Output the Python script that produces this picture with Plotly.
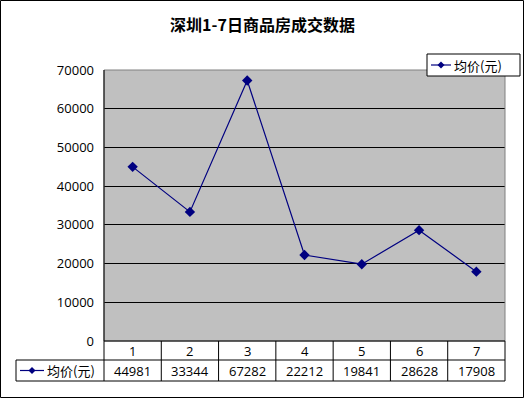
import plotly.graph_objects as go

# ---- data ----
days = [1, 2, 3, 4, 5, 6, 7]
avg_price = [44981, 33344, 67282, 22212, 19841, 28628, 17908]
series_name = "均价(元)"
title_text = "深圳1-7日商品房成交数据"
y_ticks = [0, 10000, 20000, 30000, 40000, 50000, 60000, 70000]

# ---- layout geometry (pixels) ----
W, H = 525, 398
L, R, T, B = 104, 505, 70, 341
pw, ph = R - L, B - T
NAVY = "#000080"
FONT = "Open Sans, Noto Sans CJK SC, sans-serif"
CJK = "Noto Sans CJK SC, sans-serif"


def px(x):
    return (x - L) / pw


def py(y):
    return (B - y) / ph


fig = go.Figure()
fig.add_trace(go.Scatter(
    x=days, y=avg_price, name=series_name, mode="lines+markers",
    line=dict(color=NAVY, width=1.2),
    marker=dict(symbol="diamond", size=8, color=NAVY),
    showlegend=False, cliponaxis=False,
))

shapes = []
ln = dict(color="black", width=1)
# outer frame
shapes.append(dict(type="rect", xref="paper", yref="paper",
                   x0=px(0.5), x1=px(523.5), y0=py(397.5), y1=py(0.5),
                   line=ln, layer="below"))
# plot area border
shapes.append(dict(type="rect", xref="paper", yref="paper",
                   x0=0, x1=1, y0=0, y1=1, line=dict(color="#808080", width=1)))
# left axis line
shapes.append(dict(type="line", xref="paper", yref="paper",
                   x0=0, x1=0, y0=0, y1=1, line=ln))
# table horizontal lines
shapes.append(dict(type="line", xref="paper", yref="paper",
                   x0=0, x1=1, y0=0, y1=0, line=ln))
for yy in (360, 381):
    shapes.append(dict(type="line", xref="paper", yref="paper",
                       x0=px(16), x1=1, y0=py(yy), y1=py(yy), line=ln))
shapes.append(dict(type="line", xref="paper", yref="paper",
                   x0=px(16), x1=px(16), y0=py(360), y1=py(381), line=ln))
n = len(days)
for k in range(n + 1):
    shapes.append(dict(type="line", xref="paper", yref="paper",
                       x0=k / n, x1=k / n, y0=py(341), y1=py(381), line=ln))


# legend key (line + diamond)
def key(x0, x1, yc):
    out = [dict(type="line", xref="paper", yref="paper",
                x0=px(x0), x1=px(x1), y0=py(yc), y1=py(yc),
                line=dict(color=NAVY, width=1.2))]
    cx = (x0 + x1) / 2
    d = 3.5
    path = (f"M {px(cx - d)} {py(yc)} L {px(cx)} {py(yc - d)} "
            f"L {px(cx + d)} {py(yc)} L {px(cx)} {py(yc + d)} Z")
    out.append(dict(type="path", xref="paper", yref="paper", path=path,
                    fillcolor=NAVY, line=dict(color=NAVY, width=0)))
    return out


shapes += key(20, 44, 370.5)
# top-right legend box
shapes.append(dict(type="rect", xref="paper", yref="paper",
                   x0=px(427), x1=px(520), y0=py(76), y1=py(54),
                   fillcolor="white", line=ln, layer="above"))
shapes += key(431, 451, 65)

annotations = []
for d_, v in zip(days, avg_price):
    annotations.append(dict(x=d_, xref="x", y=py(350.5), yref="paper",
                            text=str(d_), showarrow=False,
                            xanchor="center", yanchor="middle",
                            font=dict(family=FONT, size=13, color="black")))
    annotations.append(dict(x=d_, xref="x", y=py(370.5), yref="paper",
                            text=str(v), showarrow=False,
                            xanchor="center", yanchor="middle",
                            font=dict(family=FONT, size=13, color="black")))
annotations.append(dict(x=px(45), xref="paper", y=py(370.5), yref="paper",
                        text=series_name, showarrow=False,
                        xanchor="left", yanchor="middle",
                        font=dict(family=CJK, size=13, color="black")))
annotations.append(dict(x=px(452), xref="paper", y=py(65), yref="paper",
                        text=series_name, showarrow=False,
                        xanchor="left", yanchor="middle",
                        font=dict(family=CJK, size=13, color="black")))

fig.update_layout(
    width=W, height=H,
    margin=dict(l=L, r=W - R, t=T, b=H - B),
    paper_bgcolor="white", plot_bgcolor="#C0C0C0",
    title=dict(text="<b>" + title_text + "</b>", x=0.5, xref="container",
               xanchor="center", y=1 - 25 / H, yref="container",
               yanchor="middle",
               font=dict(family=CJK, size=16, color="black")),
    xaxis=dict(range=[0.5, 7.5], showticklabels=False, showgrid=False,
               zeroline=False, ticks=""),
    yaxis=dict(range=[0, 70000], tickvals=y_ticks,
               ticktext=[str(t) for t in y_ticks],
               showgrid=True, gridcolor="black", gridwidth=1,
               zeroline=False, ticks="", ticklabelstandoff=9,
               tickfont=dict(family=FONT, size=13, color="black")),
    shapes=shapes, annotations=annotations, showlegend=False,
)

fig.write_html("out.html")
